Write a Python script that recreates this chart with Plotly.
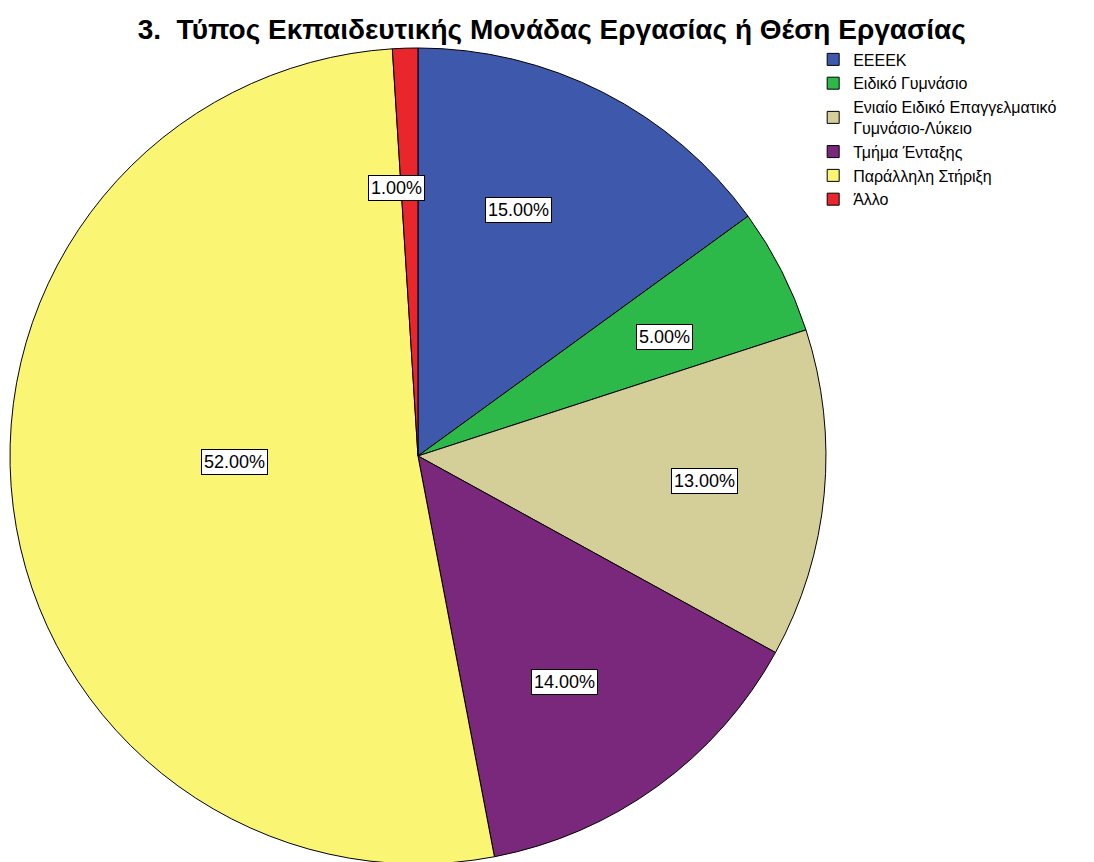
import math
import plotly.graph_objects as go

labels = ["ΕΕΕΕΚ", "Ειδικό Γυμνάσιο", "Ενιαίο Ειδικό Επαγγελματικό<br>Γυμνάσιο-Λύκειο",
          "Τμήμα Ένταξης", "Παράλληλη Στήριξη", "Άλλο"]
values = [15, 5, 13, 14, 52, 1]
colors = ["#3E58AC", "#2DB84A", "#D4CE98", "#7A287C", "#FAF573", "#E8262C"]
# label placement style: radius fraction and angular nudge (degrees)
label_r = [0.65, 0.67, 0.705, 0.66, 0.45, 0.66]
label_nudge = [-4.8, 1.2, -0.4, 3.0, 5.2, -2.7]

W, H = 1094, 862
dom_x = [0.0018, 0.7477]
dom_y = [0.0070, 0.9536]

fig = go.Figure(go.Pie(
    labels=labels, values=values, sort=False, direction="clockwise", rotation=0,
    marker=dict(colors=colors, line=dict(color="#000000", width=1)),
    textinfo="none", hoverinfo="label+percent",
    domain=dict(x=dom_x, y=dom_y),
))

# label annotations in white boxes placed near slice mid-angles
cx = (dom_x[0] + dom_x[1]) / 2 * W
cy = (dom_y[0] + dom_y[1]) / 2 * H
R = min((dom_x[1] - dom_x[0]) * W, (dom_y[1] - dom_y[0]) * H) / 2
total = sum(values)
cum = 0
for v, rf, nd in zip(values, label_r, label_nudge):
    mid = (cum + v / 2) / total * 2 * math.pi + math.radians(nd)
    cum += v
    px = cx + rf * R * math.sin(mid)
    py = cy + rf * R * math.cos(mid)
    fig.add_annotation(
        x=px / W, y=py / H, xref="paper", yref="paper",
        xanchor="center", yanchor="middle",
        text=f"{v / total * 100:.2f}%", showarrow=False,
        font=dict(family="Liberation Sans, Arial", size=18, color="#000000"),
        bgcolor="#FFFFFF", bordercolor="#000000", borderwidth=1, borderpad=2,
    )

fig.update_layout(
    width=W, height=H,
    margin=dict(l=0, r=0, t=0, b=0),
    paper_bgcolor="#FFFFFF",
    title=dict(text="<b>3.  Τύπος Εκπαιδευτικής Μονάδας Εργασίας ή Θέση Εργασίας</b>",
               x=0.497, xanchor="center", y=0.975, yanchor="middle",
               font=dict(family="Liberation Sans, Arial", size=28, color="#000000")),
    legend=dict(x=0.736, y=0.960, xanchor="left", yanchor="top",
                font=dict(family="Liberation Sans, Arial", size=16, color="#000000"),
                itemwidth=30, tracegroupgap=0, bgcolor="rgba(0,0,0,0)"),
)

fig.write_html("out.html")
